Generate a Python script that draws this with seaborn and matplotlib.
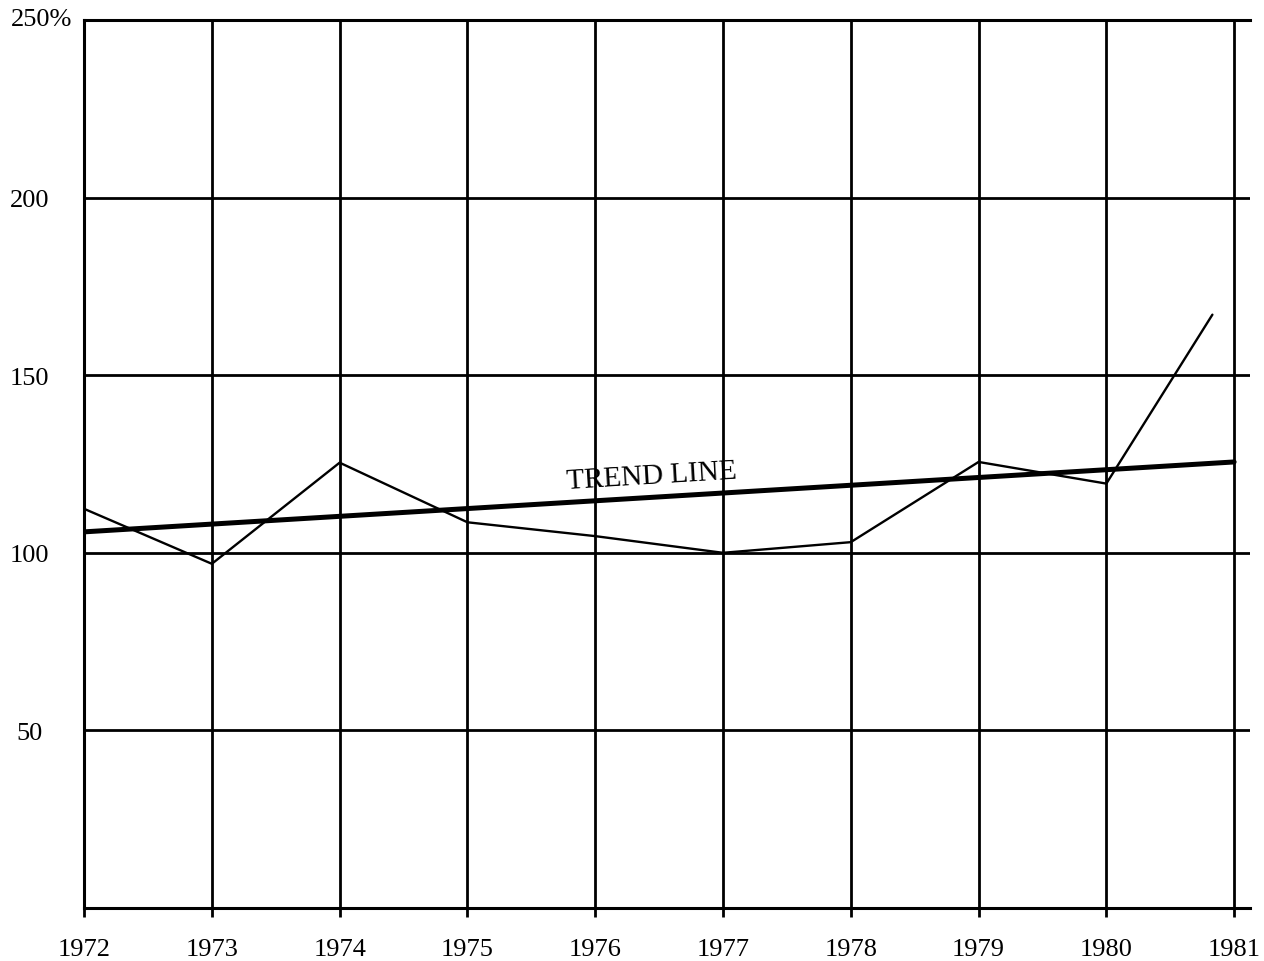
import matplotlib
matplotlib.use("Agg")
import matplotlib.pyplot as plt
import seaborn as sns

# data (percent per year)
years = [1972, 1973, 1974, 1975, 1976, 1977, 1978, 1979, 1980, 1980.83]
percent = [112.4, 96.9, 125.4, 108.6, 104.7, 100.0, 103.0, 125.6, 119.5, 167.1]

trend_years = [1972, 1981]
trend_values = [105.9, 125.6]

year_ticks = list(range(1972, 1982))
y_ticks = [50, 100, 150, 200, 250]

sns.set_style('white')
plt.rcParams['font.family'] = ['Liberation Serif', 'DejaVu Serif']
plt.rcParams['text.color'] = 'black'
plt.rcParams['xtick.color'] = 'black'
plt.rcParams['ytick.color'] = 'black'
plt.rcParams['xtick.labelcolor'] = 'black'
plt.rcParams['ytick.labelcolor'] = 'black'

fig = plt.figure(figsize=(12.64, 9.62), dpi=100)
ax = fig.add_axes([0.0665, 0.0554, 0.9225, 0.9223])

sns.lineplot(x=years, y=percent, color='black', linewidth=1.7, ax=ax)
sns.lineplot(x=trend_years, y=trend_values, color='black', linewidth=3.6, ax=ax)

ax.text(1976.44, 121.6, 'TREND LINE', rotation=3.5, ha='center', va='center',
        fontsize=21, color='black', rotation_mode='anchor')

# =========================
# AXES / GRID
# =========================
ax.set_xlim(1972, 1981.125)
ax.set_ylim(0, 250)

ax.set_xticks(year_ticks)
ax.set_xticklabels([str(y) for y in year_ticks], fontsize=19)
ax.set_yticks(y_ticks)
ax.set_yticklabels([str(v) for v in y_ticks[:-1]] + [''], fontsize=19, ha='center')

# short tick stubs hanging under the bottom axis
ax.tick_params(axis='x', bottom=True, direction='out', length=6.5, width=2.0, pad=15)
ax.tick_params(axis='y', left=False, length=0, pad=39)

ax.grid(True, color='black', linewidth=2.0)
ax.set_axisbelow(True)

for side in ['left', 'bottom', 'top']:
    ax.spines[side].set_visible(True)
    ax.spines[side].set_color('black')
    ax.spines[side].set_linewidth(2.2)
ax.spines['right'].set_visible(False)

fig.text(11 / 1264, 1 - 20 / 962, f'{y_ticks[-1]}%', ha='left', va='center', fontsize=19)

fig.savefig('out.png', dpi=100)
